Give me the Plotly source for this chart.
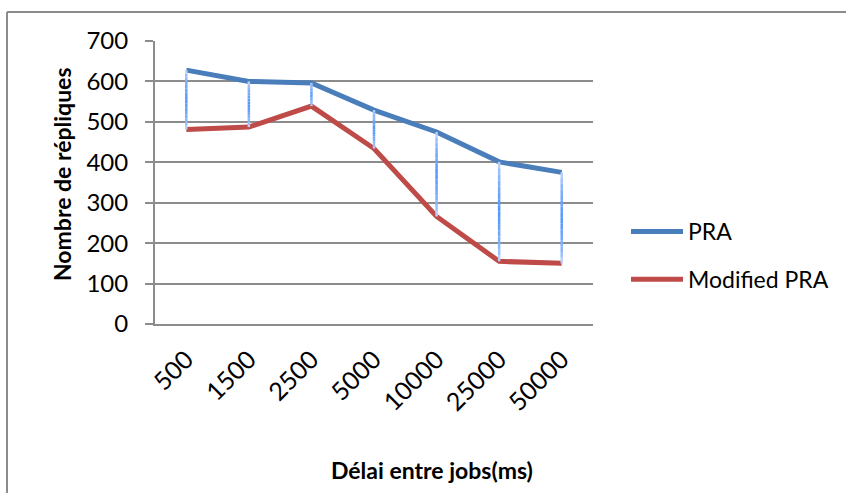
import plotly.graph_objects as go

# Data
categories = ["500", "1500", "2500", "5000", "10000", "25000", "50000"]
pra = [628, 600, 596, 529, 475, 401, 375]
modified_pra = [481, 487, 539, 434, 266, 155, 150]
series_names = ["PRA", "Modified PRA"]
y_ticks = [0, 100, 200, 300, 400, 500, 600, 700]

W, H = 846, 493
PL, PR, PT, PB = 155, 593, 41, 324  # plot area in pixels

BLUE = "#4a7ebb"
RED = "#be4b48"
GRID = "#8c8c8c"
FONT = "Lato"

fig = go.Figure()

fig.add_trace(go.Scatter(x=categories, y=pra, mode="lines", name=series_names[0],
                         line=dict(color=BLUE, width=5), legendgroup="a"))
fig.add_trace(go.Scatter(x=categories, y=modified_pra, mode="lines", name=series_names[1],
                         line=dict(color=RED, width=5), legendgroup="b"))

# High-low lines with a pale-to-blue gradient, built from small segments
def mix(c1, c2, t):
    return "#" + "".join(f"{round(a + (b - a) * t):02x}" for a, b in zip(c1, c2))

pale = (238, 236, 248)
mid = (80, 150, 255)
N = 16
for k in range(N):
    t0, t1 = k / N, (k + 1) / N
    tc = (t0 + t1) / 2
    w = 1 - abs(tc - 0.5) * 2  # 0 at ends, 1 in the middle
    xs, ys = [], []
    for c, hi, lo in zip(categories, pra, modified_pra):
        xs += [c, c, None]
        ys += [lo + (hi - lo) * t0, lo + (hi - lo) * t1, None]
    fig.add_trace(go.Scatter(x=xs, y=ys, mode="lines", showlegend=False, hoverinfo="skip",
                             line=dict(color=mix(pale, mid, w ** 0.4), width=2.5)))

def px_x(p):
    return (p - PL) / (PR - PL)

def px_y(p):
    return (PB - p) / (PB - PT)

# chart border (top and left edges visible)
fig.add_shape(type="line", xref="paper", yref="paper", x0=px_x(7), x1=px_x(900), y0=px_y(12), y1=px_y(12),
              line=dict(color=GRID, width=2))
fig.add_shape(type="line", xref="paper", yref="paper", x0=px_x(7), x1=px_x(7), y0=px_y(12), y1=px_y(600),
              line=dict(color=GRID, width=2))

fig.add_annotation(text="<b>Délai entre jobs(ms)</b>", xref="paper", yref="paper",
                   x=px_x(432), y=px_y(470), showarrow=False, xanchor="center", yanchor="middle",
                   font=dict(family=FONT, size=23, color="black"))
fig.add_annotation(text="<b>Nombre de répliques</b>", xref="paper", yref="paper",
                   x=px_x(62), y=px_y(174), showarrow=False, xanchor="center", yanchor="middle",
                   textangle=-90, font=dict(family=FONT, size=23, color="black"))

fig.update_layout(
    width=W, height=H,
    margin=dict(l=PL, r=W - PR, t=PT, b=H - PB),
    plot_bgcolor="white", paper_bgcolor="white",
    font=dict(family=FONT, size=23, color="black"),
    showlegend=True,
    legend=dict(x=px_x(626), y=px_y(210), xanchor="left", yanchor="top",
                font=dict(family=FONT, size=23, color="black"),
                tracegroupgap=15, itemwidth=52, bgcolor="rgba(0,0,0,0)"),
    xaxis=dict(type="category", showgrid=False, showline=True, linecolor=GRID, linewidth=2,
               ticks="", tickangle=-45, tickfont=dict(family=FONT, size=25),
               ticklabelstandoff=9,
               range=[-0.5, len(categories) - 0.5], zeroline=False),
    yaxis=dict(range=[0, 700], tickvals=y_ticks, showgrid=True, gridcolor=GRID, gridwidth=2,
               showline=True, linecolor=GRID, linewidth=2, ticks="outside", ticklen=8,
               tickcolor=GRID, tickwidth=2, zeroline=False, tickfont=dict(family=FONT, size=24),
               ticklabelstandoff=12),
)

fig.write_html("out.html")
